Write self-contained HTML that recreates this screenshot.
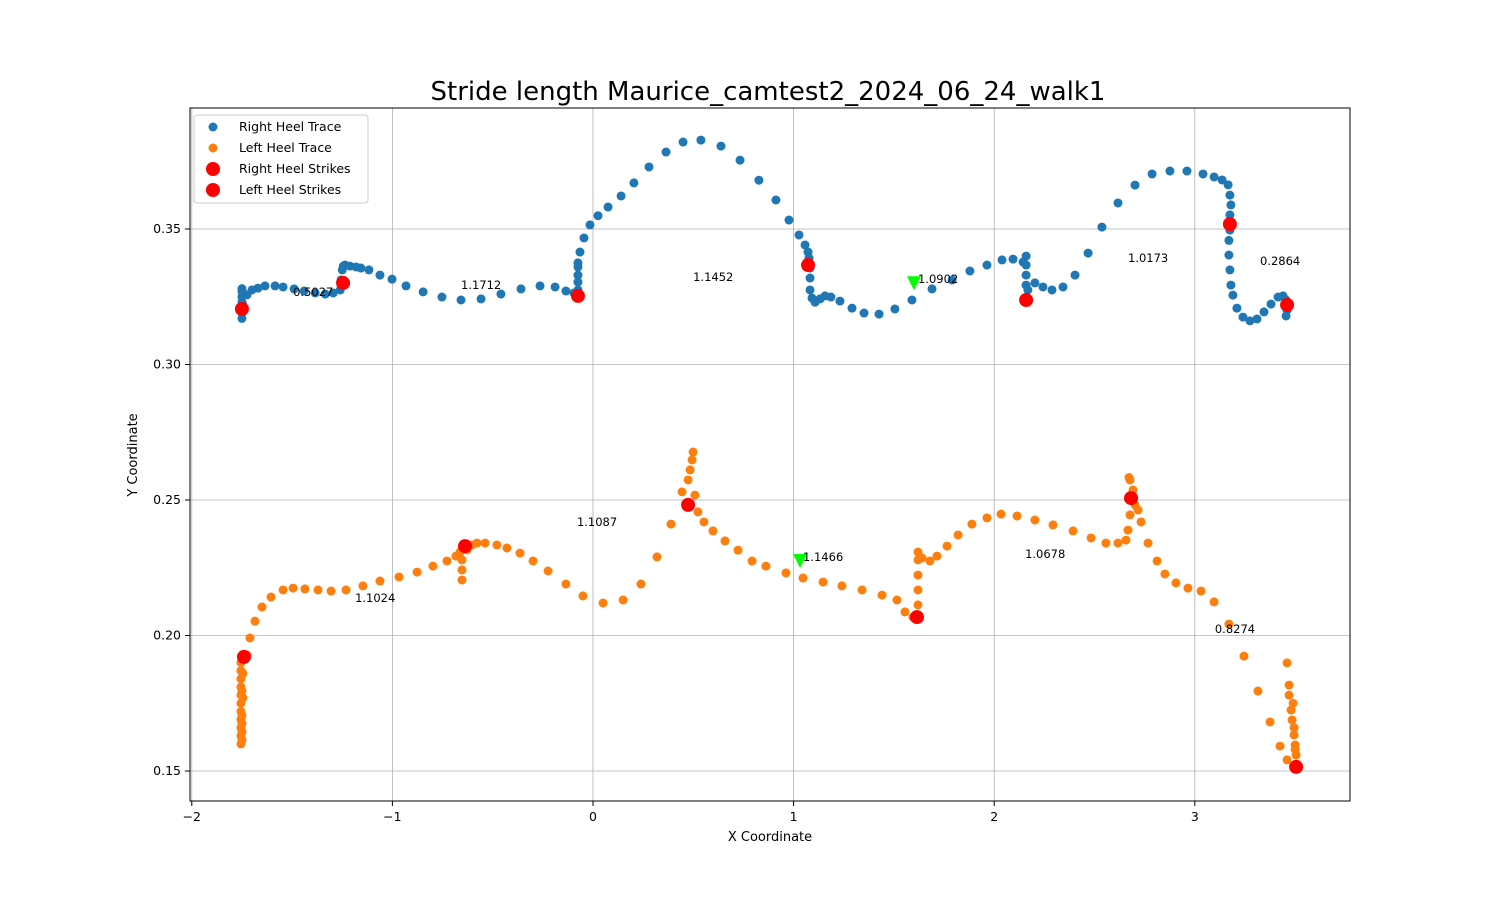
<!DOCTYPE html>
<html><head><meta charset="utf-8"><style>
body{margin:0;background:#fff;font-family:"DejaVu Sans","Liberation Sans",sans-serif}
svg text{font-family:"DejaVu Sans","Liberation Sans",sans-serif}
</style></head><body>
<svg id="chart" width="1500" height="900" xmlns="http://www.w3.org/2000/svg">
<rect width="1500" height="900" fill="#fff"/>
<text x="768" y="100" font-size="26" text-anchor="middle">Stride length Maurice_camtest2_2024_06_24_walk1</text>
<g id="grid"></g><g id="marks"></g>
<rect x="190" y="108" width="1160" height="693" fill="none" stroke="#000" stroke-width="1"/>
<g id="ticks"></g>
<text x="770" y="841" font-size="13" text-anchor="middle">X Coordinate</text>
<text x="137" y="455" font-size="13" text-anchor="middle" transform="rotate(-90 137 455)">Y Coordinate</text>
<g>
<rect x="194" y="115" width="174" height="88" rx="3" fill="#fff" fill-opacity="0.85" stroke="#ccc"/>
<circle cx="213" cy="127" r="4.5" fill="#1f77b4"/><text x="239" y="131" font-size="12.5">Right Heel Trace</text>
<circle cx="213" cy="148" r="4.5" fill="#ff7f0e"/><text x="239" y="152" font-size="12.5">Left Heel Trace</text>
<circle cx="213" cy="169" r="7" fill="red"/><text x="239" y="173" font-size="12.5">Right Heel Strikes</text>
<circle cx="213" cy="190" r="7" fill="red"/><text x="239" y="194" font-size="12.5">Left Heel Strikes</text>
</g>
</svg>
<script>
const xTicks=[-2,-1,0,1,2,3];
const yTicks=[0.15,0.20,0.25,0.30,0.35];
const rightX=[-1.75,-1.75,-1.75,-1.75,-1.75,-1.75,-1.75,-1.745,-1.745,-1.725,-1.70,-1.67,-1.635,-1.585,-1.545,-1.49,-1.44,-1.385,-1.335,-1.295,-1.26,-1.256,-1.25,-1.245,-1.236,-1.211,-1.181,-1.157,-1.117,-1.062,-1.002,-0.932,-0.847,-0.753,-0.658,-0.558,-0.459,-0.359,-0.264,-0.189,-0.135,-0.095,-0.075,-0.075,-0.075,-0.075,-0.075,-0.065,-0.045,-0.015,0.025,0.075,0.14,0.204,0.279,0.364,0.449,0.538,0.638,0.733,0.827,0.912,0.977,1.027,1.057,1.072,1.077,1.082,1.082,1.082,1.092,1.107,1.132,1.157,1.186,1.231,1.291,1.351,1.426,1.505,1.59,1.69,1.79,1.879,1.964,2.039,2.094,2.144,2.159,2.159,2.159,2.159,2.168,2.203,2.243,2.288,2.343,2.403,2.468,2.537,2.617,2.702,2.787,2.876,2.961,3.041,3.096,3.136,3.166,3.175,3.18,3.175,3.175,3.17,3.17,3.175,3.18,3.19,3.21,3.24,3.275,3.31,3.345,3.38,3.415,3.44,3.455,3.46,3.455];
const rightY=[0.317,0.319,0.321,0.323,0.325,0.327,0.328,0.322,0.326,0.3257,0.3275,0.3282,0.329,0.329,0.3286,0.3279,0.3271,0.3264,0.326,0.3264,0.3275,0.3312,0.3349,0.3363,0.3367,0.3363,0.336,0.3356,0.3349,0.333,0.3315,0.329,0.3268,0.3249,0.3238,0.3242,0.326,0.3279,0.329,0.3286,0.3271,0.3264,0.3275,0.3304,0.333,0.336,0.3375,0.3415,0.3467,0.3515,0.3549,0.3581,0.3622,0.367,0.3729,0.3784,0.3821,0.3828,0.3806,0.3754,0.368,0.3607,0.3533,0.3478,0.3441,0.3415,0.3393,0.3356,0.3319,0.3275,0.3245,0.323,0.3242,0.3253,0.3249,0.3234,0.3208,0.319,0.3186,0.3205,0.3238,0.3279,0.3312,0.3345,0.3367,0.3386,0.3389,0.3378,0.34,0.3367,0.333,0.3293,0.3275,0.3301,0.3286,0.3275,0.3286,0.333,0.3411,0.3507,0.3596,0.3662,0.3703,0.3714,0.3714,0.3703,0.3692,0.3681,0.3663,0.3625,0.3589,0.3552,0.3496,0.3458,0.3404,0.3349,0.3293,0.3256,0.3208,0.3175,0.3161,0.3168,0.3194,0.3223,0.3249,0.3253,0.3238,0.3201,0.3179];
const leftX=[-1.755,-1.755,-1.755,-1.755,-1.755,-1.755,-1.755,-1.755,-1.755,-1.755,-1.755,-1.75,-1.75,-1.75,-1.75,-1.75,-1.745,-1.745,-1.725,-1.71,-1.685,-1.65,-1.605,-1.545,-1.495,-1.436,-1.371,-1.306,-1.231,-1.147,-1.062,-0.967,-0.877,-0.798,-0.728,-0.683,-0.663,-0.653,-0.653,-0.653,-0.628,-0.603,-0.578,-0.538,-0.479,-0.429,-0.364,-0.299,-0.224,-0.135,-0.05,0.05,0.15,0.239,0.319,0.389,0.444,0.474,0.484,0.494,0.499,0.508,0.523,0.553,0.598,0.658,0.723,0.793,0.862,0.962,1.047,1.147,1.241,1.341,1.441,1.515,1.555,1.595,1.62,1.62,1.62,1.62,1.62,1.64,1.68,1.715,1.765,1.82,1.889,1.964,2.034,2.114,2.203,2.293,2.393,2.483,2.557,2.617,2.657,2.667,2.677,2.677,2.677,2.672,2.692,2.702,2.717,2.732,2.767,2.812,2.851,2.906,2.966,3.031,3.096,3.17,3.245,3.315,3.375,3.425,3.46,3.46,3.47,3.47,3.48,3.485,3.495,3.5,3.505,3.49,3.495,3.50];
const leftY=[0.16,0.163,0.166,0.169,0.172,0.175,0.178,0.181,0.184,0.187,0.19,0.1615,0.1645,0.1675,0.1705,0.1795,0.177,0.186,0.1928,0.1991,0.2053,0.2105,0.2142,0.2168,0.2175,0.2172,0.2168,0.2164,0.2168,0.2183,0.2201,0.2216,0.2234,0.2256,0.2275,0.2293,0.2308,0.2279,0.2242,0.2205,0.2316,0.2334,0.2341,0.2341,0.2334,0.2323,0.2304,0.2275,0.2238,0.219,0.2146,0.212,0.2131,0.219,0.229,0.2411,0.253,0.2574,0.2611,0.2648,0.2677,0.2518,0.2456,0.2419,0.2386,0.2349,0.2315,0.2275,0.2256,0.2231,0.2212,0.2197,0.2183,0.2168,0.2149,0.2131,0.2087,0.2068,0.2113,0.2168,0.2223,0.2279,0.2308,0.2286,0.2275,0.2293,0.233,0.2371,0.2411,0.2434,0.2448,0.2441,0.2426,0.2408,0.2386,0.236,0.2341,0.2341,0.2352,0.2389,0.2445,0.25,0.2574,0.2583,0.2537,0.2482,0.2463,0.2419,0.2341,0.2275,0.2227,0.2194,0.2175,0.2164,0.2124,0.2042,0.1924,0.1795,0.1681,0.1592,0.1541,0.1899,0.1817,0.178,0.1725,0.1688,0.1633,0.1596,0.1559,0.1750,0.1660,0.1580];
const rStrikeX=[-1.75,-1.246,-0.075,1.072,2.159,3.175,3.46];
const rStrikeY=[0.3205,0.3301,0.3253,0.3367,0.3238,0.3518,0.322];
const lStrikeX=[-1.74,-0.638,0.474,1.615,2.682,3.505];
const lStrikeY=[0.1921,0.233,0.2482,0.2068,0.2507,0.1515];
const markX=[1.60,1.032];
const markY=[0.330,0.2275];
const labelText=["0.5027","1.1712","1.1452","1.0902","1.0173","0.2864","1.1087","1.1024","1.1466","1.0678","0.8274"];
const labelX=[-1.495,-0.658,0.499,1.62,2.667,3.325,-0.08,-1.186,1.047,2.154,3.10];
const labelY=[0.3268,0.3293,0.3323,0.3315,0.3393,0.3382,0.2419,0.2138,0.229,0.2301,0.2024];

const NS="http://www.w3.org/2000/svg";
const sx=v=>593+v*200.6;
const sy=v=>771-(v-0.15)*2710;
function mk(tag,attrs,parent){const e=document.createElementNS(NS,tag);for(const k in attrs)e.setAttribute(k,attrs[k]);parent.appendChild(e);return e;}
const grid=document.getElementById('grid'),ticks=document.getElementById('ticks'),marks=document.getElementById('marks');
xTicks.forEach(t=>{const x=sx(t);
 const g=mk('line',{x1:x,x2:x,y1:108,y2:801,stroke:'#b0b0b0','stroke-width':0.8},grid);
 
 
 mk('line',{x1:x,x2:x,y1:801,y2:806,stroke:'#000'},ticks);
 const l=mk('text',{x:x,y:821,'font-size':12.5,'text-anchor':'middle'},ticks);l.textContent=t<0?'\u2212'+(-t):String(t);
 
 });
yTicks.forEach(t=>{const y=sy(t);
 const g=mk('line',{x1:190,x2:1350,y1:y,y2:y,stroke:'#b0b0b0','stroke-width':0.8},grid);
 
 
 mk('line',{x1:185,x2:190,y1:y,y2:y,stroke:'#000'},ticks);
 const l=mk('text',{x:181,y:y+4,'font-size':12.5,'text-anchor':'end'},ticks);l.textContent=t.toFixed(2);
 
 });
rightX.forEach((v,i)=>{const c=mk('circle',{cx:sx(v),cy:sy(rightY[i]),r:4.5,fill:'#1f77b4'},marks);
 
 });
leftX.forEach((v,i)=>{const c=mk('circle',{cx:sx(v),cy:sy(leftY[i]),r:4.5,fill:'#ff7f0e'},marks);
 
 });
rStrikeX.forEach((v,i)=>{const c=mk('circle',{cx:sx(v),cy:sy(rStrikeY[i]),r:7,fill:'red'},marks);
 
 });
lStrikeX.forEach((v,i)=>{const c=mk('circle',{cx:sx(v),cy:sy(lStrikeY[i]),r:7,fill:'red'},marks);
 
 });
markX.forEach((v,i)=>{const x=sx(v),y=sy(markY[i]);
 const p=mk('polygon',{points:`${x-7},${y-7} ${x+7},${y-7} ${x},${y+7}`,fill:'#00ff00'},marks);
 
 });
labelText.forEach((s,i)=>{const t=mk('text',{x:sx(labelX[i]),y:sy(labelY[i])+4,'font-size':11.5},marks);t.textContent=s;
 
 });
</script>
</body></html>
